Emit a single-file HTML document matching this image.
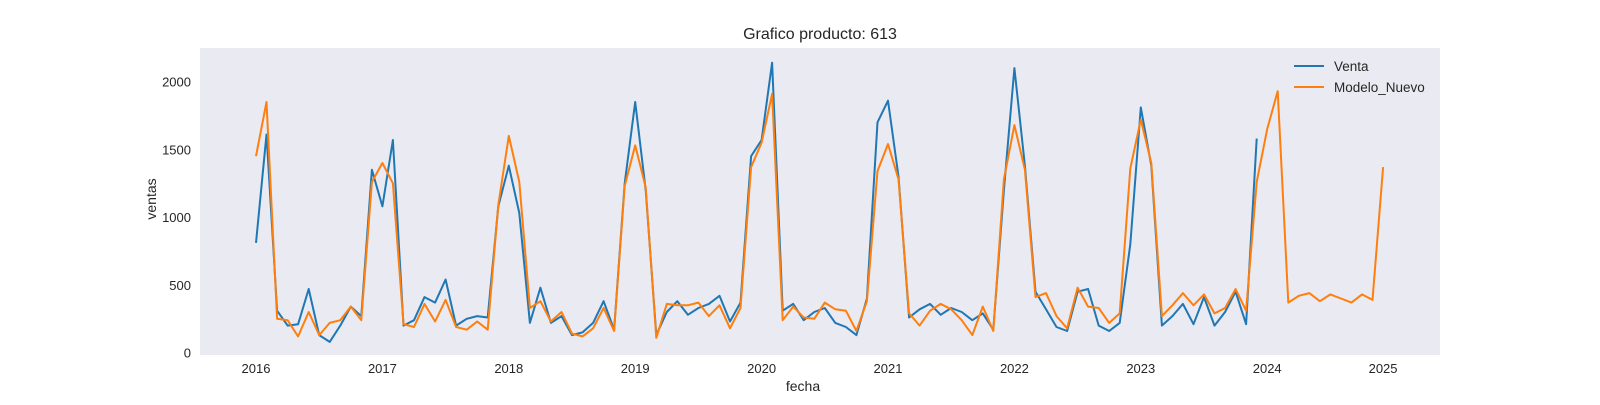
<!DOCTYPE html>
<html><head><meta charset="utf-8"><style>
body{margin:0;background:#fff;width:1600px;height:400px;overflow:hidden}
svg text{font-family:"Liberation Sans",Arial,sans-serif;fill:#262626}
</style></head><body>
<svg id="chart" width="1600" height="400" xmlns="http://www.w3.org/2000/svg">
<text x="820" y="39" font-size="16" text-anchor="middle">Grafico producto: 613</text>
<rect x="200" y="48" width="1240" height="307" fill="#eaeaf2"/>
<g id="xticks"></g>
<g id="yticks"></g>
<g id="series"></g>
<text x="803" y="391" font-size="14" text-anchor="middle">fecha</text>
<text x="156" y="199" font-size="14" text-anchor="middle" transform="rotate(-90 156 199)">ventas</text>
<g>
<line x1="1294" y1="66" x2="1324" y2="66" stroke="#1f77b4" stroke-width="2"/>
<text x="1334" y="71" font-size="13.5">Venta</text>
<line x1="1294" y1="87" x2="1324" y2="87" stroke="#ff7f0e" stroke-width="2"/>
<text x="1334" y="92" font-size="13.5">Modelo_Nuevo</text>
</g>
</svg>
<script>
const startYear = 2016;
const venta = [
810,1610,310,200,210,470,130,80,200,340,270,1350,
1080,1570,200,240,410,370,540,200,250,270,260,1080,
1380,1030,220,480,220,270,130,150,220,380,170,1250,
1850,1200,130,300,380,280,330,360,420,230,370,1450,
1570,2140,310,360,240,300,330,220,190,130,400,1700,
1860,1300,260,320,360,280,330,300,240,290,170,1200,
2100,1380,450,320,190,160,450,470,200,160,220,800,
1810,1380,200,270,360,210,410,200,300,450,210,1580];
const modelo = [
1450,1850,250,240,120,300,130,220,240,340,240,1260,
1400,1250,210,190,360,230,390,190,170,230,170,1090,
1600,1260,330,380,230,300,140,120,180,330,160,1230,
1530,1220,110,360,350,350,370,270,350,180,330,1370,
1550,1910,240,340,260,250,370,320,310,160,380,1340,
1540,1280,290,200,310,360,320,240,130,340,160,1280,
1680,1350,410,440,270,180,480,340,330,220,290,1360,
1720,1400,270,350,440,350,430,290,330,470,310,1260,
1650,1930,370,420,440,380,430,400,370,430,390,1370];
const xTickLabels = ["2016","2017","2018","2019","2020","2021","2022","2023","2024","2025"];
const xTickMonths = [0,12,24,36,48,60,72,84,96,107];
const yTickValues = [0,500,1000,1500,2000];

const NS="http://www.w3.org/2000/svg";
const X0=256, PXM=126.4/12;
function xScale(m){return X0+m*PXM;}
function yScale(v){return 352.7-v*0.1355;}
const xg=document.getElementById('xticks'), yg=document.getElementById('yticks'), sg=document.getElementById('series');
xTickLabels.forEach((lab,i)=>{
  const t=document.createElementNS(NS,'text');
  
  
  t.setAttribute('x',xScale(xTickMonths[i]));t.setAttribute('y',373);
  t.setAttribute('font-size','13');t.setAttribute('text-anchor','middle');
  t.textContent=lab;xg.appendChild(t);
});
yTickValues.forEach(v=>{
  const t=document.createElementNS(NS,'text');
  
  
  t.setAttribute('x',191);t.setAttribute('y',yScale(v)+5);
  t.setAttribute('font-size','13');t.setAttribute('text-anchor','end');
  t.textContent=v;yg.appendChild(t);
});
function line(arr,color,name){
  const p=document.createElementNS(NS,'polyline');
  
  
  p.setAttribute('points',arr.map((v,i)=>xScale(i).toFixed(1)+','+yScale(v).toFixed(1)).join(' '));
  p.setAttribute('fill','none');p.setAttribute('stroke',color);
  p.setAttribute('stroke-width','2');p.setAttribute('stroke-linejoin','round');
  sg.appendChild(p);
}
line(venta,'#1f77b4','venta-line');
line(modelo,'#ff7f0e','modelo-nuevo-line');
</script>
</body></html>
